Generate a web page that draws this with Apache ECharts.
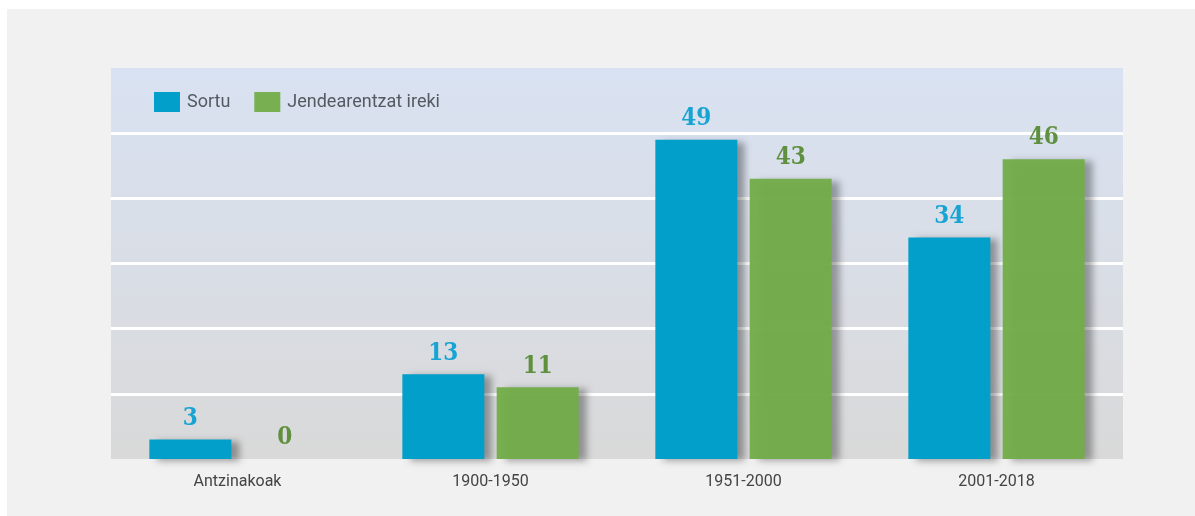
<!DOCTYPE html>
<html>
<head>
<meta charset="utf-8">
<script src="https://cdn.jsdelivr.net/npm/echarts@6/dist/echarts.min.js"></script>
<style>
  html, body { margin: 0; padding: 0; background: #ffffff; }
  #chart { position: absolute; left: 7px; top: 9px; width: 1188px; height: 507px; background: #f1f1f1; }
</style>
</head>
<body>
<div id="chart"></div>
<script>
// periods on the x axis
const categories = ['Antzinakoak', '1900-1950', '1951-2000', '2001-2018']
const seriesNames = ['Sortu', 'Jendearentzat ireki']
const sortuValues = [3, 13, 49, 34]
const irekiValues = [0, 11, 43, 46]

const barColors = ['#019fc9', '#72ad4a']
const labelColors = ['#17a4d3', '#5a8c37']

const chart = echarts.init(document.getElementById('chart'))

const buildSeries = (name, data, index) => ({
  name,
  type: 'bar',
  data,
  barWidth: 82,
  barGap: '15%',
  itemStyle: {
    color: barColors[index],
    opacity: index === 1 ? 0.96 : 1,
    shadowColor: 'rgba(0,0,0,0.35)',
    shadowBlur: 7,
    shadowOffsetX: 8,
    shadowOffsetY: 2
  },
  label: {
    show: true,
    position: 'top',
    distance: 9,
    color: labelColors[index],
    fontFamily: '"DejaVu Serif Condensed", "DejaVu Serif", serif',
    fontWeight: 'bold',
    fontSize: 24
  }
})

chart.setOption({
  backgroundColor: 'transparent',
  animation: false,
  legend: {
    left: 142,
    top: 78,
    icon: 'rect',
    itemWidth: 26,
    itemHeight: 20,
    itemGap: 24,
    textStyle: {
      color: '#555a60',
      fontFamily: '"Liberation Sans Narrow", Roboto, sans-serif',
      fontSize: 18,
      padding: [0, 0, 0, 2]
    },
    data: seriesNames
  },
  grid: {
    show: true,
    left: 104,
    right: 72,
    top: 59,
    bottom: 57,
    borderWidth: 0,
    backgroundColor: new echarts.graphic.LinearGradient(0, 0, 0, 1, [
      { offset: 0, color: '#d9e2f2' },
      { offset: 1, color: '#d9d9d9' }
    ])
  },
  xAxis: {
    type: 'category',
    data: categories,
    axisLine: { show: false },
    axisTick: { show: false },
    axisLabel: {
      margin: 15,
      color: '#444444',
      fontFamily: 'Roboto, sans-serif',
      fontSize: 16
    }
  },
  yAxis: {
    type: 'value',
    min: 0,
    max: 60,
    interval: 10,
    axisLabel: { show: false },
    axisLine: { show: false },
    axisTick: { show: false },
    splitLine: {
      show: true,
      showMinLine: false,
      showMaxLine: false,
      lineStyle: { color: '#ffffff', width: 3 }
    }
  },
  series: [
    buildSeries(seriesNames[0], sortuValues, 0),
    buildSeries(seriesNames[1], irekiValues, 1)
  ]
})
</script>
</body>
</html>
